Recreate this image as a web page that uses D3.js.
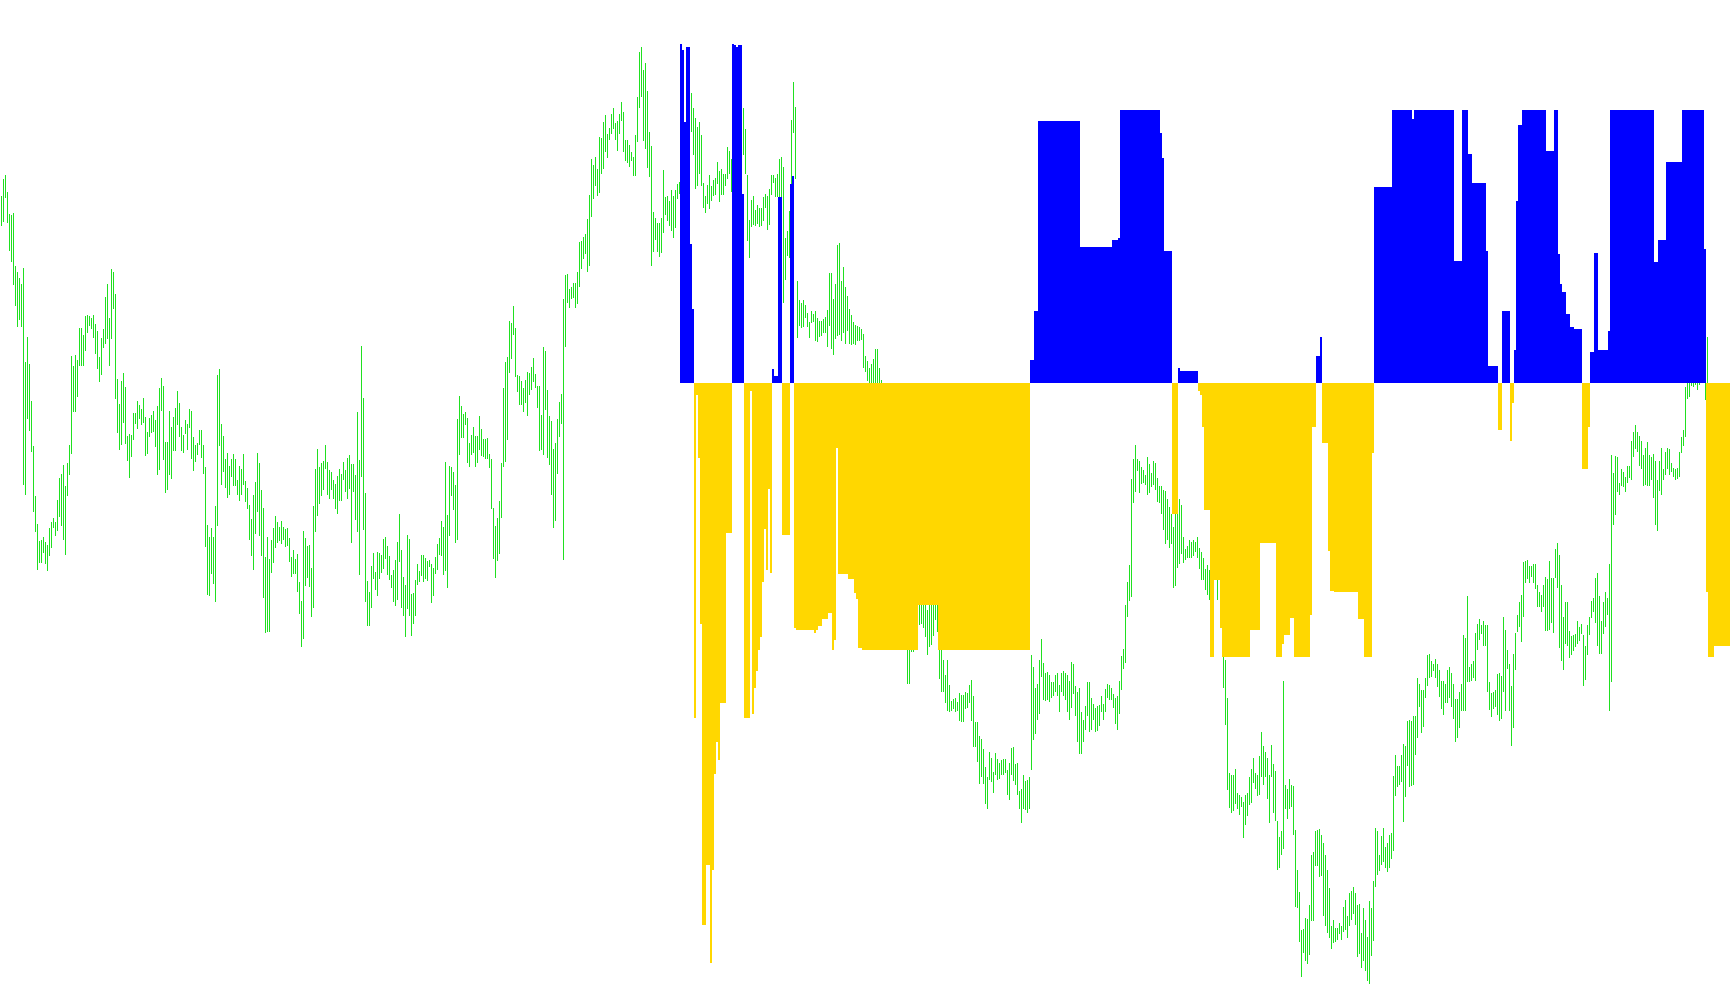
<!DOCTYPE html>
<html><head><meta charset="utf-8">
<script src="https://cdn.jsdelivr.net/npm/d3@7"></script>
<style>html,body{margin:0;padding:0;background:#fff;overflow:hidden}</style>
</head><body><svg id="c" width="1730" height="1005"></svg>
<script>
// Price bars (high / low, in price points), one per bar from bar 0
const highs = [
/*0*/ 804,821,825,808,786,785,787,734,728,722,
/*10*/ 716,732,638,663,636,599,554,504,476,459,
/*20*/ 460,463,458,455,472,478,482,478,500,522,
/*30*/ 526,535,514,537,555,644,634,645,640,672,
/*40*/ 672,665,684,685,684,682,685,676,669,643,
/*50*/ 662,671,703,716,682,731,728,706,621,596,
/*60*/ 619,627,613,564,566,565,587,587,599,595,
/*70*/ 591,602,583,568,582,585,589,580,594,612,
/*80*/ 622,614,558,558,589,573,583,592,609,597,
/*90*/ 573,565,580,576,591,589,563,555,557,570,
/*100*/ 570,555,533,475,463,472,463,494,625,631,
/*110*/ 576,564,541,547,534,541,546,541,520,534,
/*120*/ 531,546,519,512,495,481,505,518,547,537,
/*130*/ 510,492,443,463,441,460,472,484,478,473,
/*140*/ 479,473,471,472,462,443,450,441,446,418,
/*150*/ 399,469,462,454,455,432,494,531,551,533,
/*160*/ 537,539,555,538,530,528,520,516,524,531,
/*170*/ 526,538,530,542,545,536,536,525,588,540,
/*180*/ 654,602,507,419,408,434,447,428,448,447,
/*190*/ 445,461,463,454,444,425,430,440,458,486,
/*200*/ 450,423,415,465,461,406,407,420,436,429,
/*210*/ 445,445,442,439,440,436,432,443,456,462,
/*220*/ 479,473,538,485,534,533,528,515,581,604,
/*230*/ 594,586,588,582,557,565,573,564,564,584,
/*240*/ 571,561,561,562,546,541,492,474,482,499,
/*250*/ 537,612,638,643,679,677,694,672,625,624,
/*260*/ 619,612,620,628,627,633,642,626,614,614,
/*270*/ 585,653,649,610,584,579,551,557,581,598,
/*280*/ 606,701,725,726,711,713,717,717,728,758,
/*290*/ 759,763,766,781,805,841,835,843,831,863,
/*300*/ 862,878,885,866,872,886,892,877,879,886,
/*310*/ 898,888,860,860,855,848,843,865,903,948,
/*320*/ 953,930,937,909,868,854,788,782,777,777,
/*330*/ 782,830,803,804,799,810,804,810,816,818,
/*340*/ 830,850,870,895,905,907,892,882,873,878,
/*350*/ 865,817,804,815,825,814,820,822,838,829,
/*360*/ 831,826,826,853,849,841,850,860,870,880,
/*370*/ 890,892,871,825,780,800,804,790,795,792,
/*380*/ 792,803,806,804,811,825,825,822,826,841,
/*390*/ 843,833,762,769,789,880,918,893,719,700,
/*400*/ 697,700,695,687,678,689,686,689,682,679,
/*410*/ 679,681,683,690,727,727,701,716,755,757,
/*420*/ 719,733,713,704,691,685,678,675,674,673,
/*430*/ 671,666,644,639,632,636,641,651,651,632,
/*440*/ 620,605,590,580,560,545,530,520,500,480,
/*450*/ 460,440,410,380,370,380,385,400,405,410,
/*460*/ 415,405,400,390,400,405,410,415,410,380,
/*470*/ 370,340,325,340,315,299,301,302,298,307,
/*480*/ 305,305,308,307,315,320,304,278,278,264,
/*490*/ 261,251,233,223,248,242,228,247,241,237,
/*500*/ 240,241,241,230,237,252,253,236,237,209,
/*510*/ 211,225,219,220,223,345,333,312,316,340,
/*520*/ 361,337,327,328,325,318,318,325,327,315,
/*530*/ 327,329,327,325,319,338,336,314,308,312,
/*540*/ 288,280,294,318,318,302,296,292,294,295,
/*550*/ 304,296,311,316,315,312,306,302,304,319,
/*560*/ 344,351,395,418,435,521,541,555,541,539,
/*570*/ 533,530,525,543,536,527,539,537,522,514,
/*580*/ 514,510,509,501,493,486,473,495,500,501,
/*590*/ 495,463,451,454,460,458,460,458,463,452,
/*600*/ 448,442,431,435,430,420,410,440,420,435,
/*610*/ 400,360,340,302,227,225,225,231,207,205,
/*620*/ 203,198,205,207,223,231,242,227,225,244,
/*630*/ 268,254,248,242,225,255,236,229,179,163,
/*640*/ 169,319,215,211,221,215,214,170,130,108,
/*650*/ 70,71,82,81,95,145,148,169,170,171,
/*660*/ 165,157,145,130,112,74,80,72,72,77,
/*670*/ 74,93,100,84,107,109,113,107,95,96,
/*680*/ 67,92,80,63,99,92,119,172,169,145,
/*690*/ 164,172,153,157,165,167,224,245,234,234,
/*700*/ 245,256,254,279,280,279,284,284,322,316,
/*710*/ 310,310,322,345,346,339,336,341,336,330,
/*720*/ 319,319,316,330,333,327,316,301,301,308,
/*730*/ 316,365,362,404,333,336,339,367,376,381,
/*740*/ 375,379,375,375,318,307,308,310,326,327,
/*750*/ 324,383,370,350,336,314,346,367,385,398,
/*760*/ 405,438,439,440,434,434,436,436,415,408,
/*770*/ 405,415,423,421,439,422,422,451,457,445,
/*780*/ 415,383,398,398,369,364,365,366,379,373,
/*790*/ 376,365,354,375,383,399,402,422,427,404,
/*800*/ 379,398,408,402,436,545,527,544,543,517,
/*810*/ 531,528,523,534,534,559,568,575,568,564,
/*820*/ 559,545,552,558,545,543,546,539,520,539,
/*830*/ 552,531,548,552,551,537,532,531,532,548,
/*840*/ 563,570,613,625,630,635,640,635,630,640,
/*850*/ 645,650,655,663
];
const lows = [
/*0*/ 774,778,802,777,749,738,715,694,673,680,
/*10*/ 673,515,505,581,569,548,488,468,430,437,
/*20*/ 437,447,436,429,444,452,472,464,469,483,
/*30*/ 474,460,445,504,525,546,588,588,603,634,
/*40*/ 634,634,649,667,674,671,662,646,631,618,
/*50*/ 625,652,656,661,634,661,691,601,567,550,
/*60*/ 555,577,556,539,522,543,560,576,571,581,
/*70*/ 575,577,544,546,563,567,568,553,525,530,
/*80*/ 589,540,507,510,525,521,549,549,575,563,
/*90*/ 549,547,566,550,572,541,529,538,545,555,
/*100*/ 542,526,453,405,404,426,416,398,474,554,
/*110*/ 515,528,512,502,505,523,514,514,505,499,
/*120*/ 505,515,498,491,460,444,430,466,488,464,
/*130*/ 444,402,367,368,368,427,437,452,457,459,
/*140*/ 456,460,453,454,438,423,426,426,408,386,
/*150*/ 353,361,414,422,413,383,392,468,484,496,
/*160*/ 504,510,531,505,501,510,501,491,486,499,
/*170*/ 499,520,508,501,511,457,508,480,468,425,
/*180*/ 523,470,398,374,374,392,421,410,404,421,
/*190*/ 427,431,441,425,420,412,398,394,400,438,
/*200*/ 392,384,363,391,384,364,376,384,415,418,
/*210*/ 424,418,421,419,433,397,404,426,430,445,
/*220*/ 444,425,429,412,464,504,490,457,460,545,
/*230*/ 562,562,575,537,533,545,547,533,537,550,
/*240*/ 544,543,541,541,532,491,441,422,439,446,
/*250*/ 482,533,538,560,627,641,665,623,608,595,
/*260*/ 595,588,597,584,605,610,618,612,592,549,
/*270*/ 550,545,590,542,535,505,472,479,526,563,
/*280*/ 576,440,653,697,692,701,702,692,696,713,
/*290*/ 731,741,746,728,734,783,801,814,804,807,
/*300*/ 826,831,848,842,860,866,871,860,849,866,
/*310*/ 879,848,839,837,833,839,824,824,858,892,
/*320*/ 903,859,851,832,823,734,748,760,748,743,
/*330*/ 747,767,785,779,774,769,762,772,801,806,
/*340*/ 805,815,825,850,860,868,845,811,814,826,
/*350*/ 814,792,787,796,791,799,804,805,816,798,
/*360*/ 805,805,814,821,826,808,815,820,830,835,
/*370*/ 840,845,826,759,742,773,775,774,776,773,
/*380*/ 774,779,792,770,775,805,817,803,803,803,
/*390*/ 800,697,720,744,742,816,867,821,662,674,
/*400*/ 672,673,682,673,662,677,678,659,658,663,
/*410*/ 664,667,667,653,674,651,645,661,664,665,
/*420*/ 659,667,656,669,656,655,656,655,659,659,
/*430*/ 660,632,628,619,610,605,600,595,590,580,
/*440*/ 570,550,540,520,500,490,480,460,440,420,
/*450*/ 400,380,350,316,316,348,348,360,370,375,
/*460*/ 376,372,363,345,353,355,364,380,368,321,
/*470*/ 308,308,297,289,288,289,291,288,289,279,
/*480*/ 278,278,291,292,297,279,253,253,238,216,
/*490*/ 223,216,196,191,220,218,207,225,220,221,
/*500*/ 225,225,227,205,200,225,219,215,205,191,
/*510*/ 177,191,190,187,191,230,260,266,280,286,
/*520*/ 323,300,299,300,298,302,304,308,304,288,
/*530*/ 308,304,300,288,280,292,306,284,258,246,
/*540*/ 246,258,270,284,268,270,280,268,269,274,
/*550*/ 288,280,288,302,300,300,292,276,270,286,
/*560*/ 310,331,337,383,399,403,497,508,529,507,
/*570*/ 516,517,515,505,507,513,515,510,498,497,
/*580*/ 486,470,456,460,452,456,412,414,432,436,
/*590*/ 446,437,440,442,442,442,444,448,442,431,
/*600*/ 420,420,410,405,400,380,360,422,400,421,
/*610*/ 373,312,275,210,192,187,189,196,191,185,
/*620*/ 193,162,175,184,195,197,217,211,204,205,
/*630*/ 223,215,223,201,177,223,187,179,130,132,
/*640*/ 145,151,191,181,191,193,165,93,92,58,
/*650*/ 23,47,39,36,45,79,79,134,134,123,
/*660*/ 124,84,74,67,62,51,57,58,60,66,
/*670*/ 60,68,70,62,74,80,86,75,43,46,
/*680*/ 32,39,29,19,16,44,59,113,125,129,
/*690*/ 135,138,132,128,132,141,149,204,213,215,
/*700*/ 218,178,203,234,213,214,215,245,262,293,
/*710*/ 267,273,302,314,322,323,329,322,313,303,
/*720*/ 291,285,297,297,302,293,281,258,262,272,
/*730*/ 289,289,289,318,318,319,322,319,350,360,
/*740*/ 366,354,354,308,290,283,291,293,285,279,
/*750*/ 281,308,289,331,289,254,272,330,368,373,
/*760*/ 358,383,417,421,417,423,417,411,393,393,
/*770*/ 388,393,369,369,370,377,367,422,412,352,
/*780*/ 339,330,356,354,342,345,349,353,356,359,
/*790*/ 366,314,320,345,365,382,388,377,354,346,
/*800*/ 346,366,373,385,289,318,475,485,508,505,
/*810*/ 514,513,508,517,522,520,543,551,548,534,
/*820*/ 531,514,515,514,514,520,502,475,469,509,
/*830*/ 505,520,525,531,525,528,523,520,521,523,
/*840*/ 547,554,563,601,603,614,613,615,610,615,
/*850*/ 620,622,600,616
];

// Histogram values, one per bar starting at bar HIST_FIRST_BAR
const HIST_FIRST_BAR = 340;
const hist = [
/*340*/ 339,333,261,336,336,139,74,-335,-12,-75,
/*350*/ -241,-542,-542,-482,-482,-580,-487,-391,-359,-377,
/*360*/ -320,-320,-320,-150,-150,-150,339,338,336,338,
/*370*/ 338,189,-335,-335,-335,-8,-331,-305,-288,-267,
/*380*/ -254,-199,-146,-187,-106,-190,14,7,7,186,
/*390*/ 186,-152,-152,-152,-152,199,207,-245,-247,-247,
/*400*/ -247,-247,-247,-247,-247,-247,-247,-250,-247,-243,
/*410*/ -243,-236,-236,-236,-230,-230,-267,-257,-65,-191,
/*420*/ -191,-191,-191,-191,-196,-196,-196,-210,-216,-265,
/*430*/ -265,-267,-267,-267,-267,-267,-267,-267,-267,-267,
/*440*/ -267,-267,-267,-267,-267,-267,-267,-267,-267,-267,
/*450*/ -267,-267,-267,-267,-267,-267,-267,-267,-267,-222,
/*460*/ -222,-222,-222,-222,-222,-222,-222,-222,-222,-267,
/*470*/ -267,-267,-267,-267,-267,-267,-267,-267,-267,-267,
/*480*/ -267,-267,-267,-267,-267,-267,-267,-267,-267,-267,
/*490*/ -267,-267,-267,-267,-267,-267,-267,-267,-267,-267,
/*500*/ -267,-267,-267,-267,-267,-267,-267,-267,-267,-267,
/*510*/ -267,-267,-267,-267,-267,23,23,72,72,262,
/*520*/ 262,262,262,262,262,262,262,262,262,262,
/*530*/ 262,262,262,262,262,262,262,262,262,262,
/*540*/ 136,136,136,136,136,136,136,136,136,136,
/*550*/ 136,136,136,136,136,136,143,143,143,145,
/*560*/ 273,273,273,273,273,273,273,273,273,273,
/*570*/ 273,273,273,273,273,273,273,273,273,273,
/*580*/ 250,225,132,132,132,132,-131,-131,-131,15,
/*590*/ 12,12,12,12,12,12,12,12,12,-8,
/*600*/ -12,-44,-127,-127,-127,-274,-274,-197,-197,-197,
/*610*/ -245,-274,-274,-274,-274,-274,-274,-274,-274,-274,
/*620*/ -274,-274,-274,-274,-274,-247,-247,-247,-247,-247,
/*630*/ -160,-160,-160,-160,-160,-160,-160,-160,-274,-274,
/*640*/ -274,-261,-252,-252,-252,-235,-235,-274,-274,-274,
/*650*/ -274,-274,-274,-274,-274,-232,-44,-44,27,27,
/*660*/ 46,-60,-60,-60,-168,-208,-208,-209,-209,-209,
/*670*/ -209,-209,-209,-209,-209,-209,-209,-209,-209,-236,
/*680*/ -236,-236,-274,-274,-274,-274,-70,196,196,196,
/*690*/ 196,196,196,196,196,196,273,273,273,273,
/*700*/ 273,273,273,273,273,273,264,273,273,273,
/*710*/ 273,273,273,273,273,273,273,273,273,273,
/*720*/ 273,273,273,273,273,273,273,122,122,122,
/*730*/ 122,273,273,273,229,229,200,200,200,200,
/*740*/ 200,200,200,132,17,17,17,17,17,-47,
/*750*/ -47,72,72,72,72,-58,-20,33,182,258,
/*760*/ 258,273,273,273,273,273,273,273,273,273,
/*770*/ 273,273,273,232,232,232,232,273,273,129,
/*780*/ 99,91,91,69,69,56,56,54,54,54,
/*790*/ 54,-86,-86,-86,-44,31,31,130,130,33,
/*800*/ 33,33,33,33,52,273,273,273,273,273,
/*810*/ 273,273,273,273,273,273,273,273,273,273,
/*820*/ 273,273,273,273,273,273,273,121,121,143,
/*830*/ 143,143,143,221,221,221,221,221,221,221,
/*840*/ 221,273,273,273,273,273,273,273,273,273,
/*850*/ 273,273,134,-209,-274,-274,-274,-263,-263,-263,
/*860*/ -263,-263,-263,-263,-263
];

const BAR_COUNT = 865;
const COLORS = { bars: "#20e020", up: "#0000ff", down: "#ffd700" };

const W = 1730, H = 1005;
const svg = d3.select("#c");
svg.append("rect").attr("width", W).attr("height", H).attr("fill", "#fff");

const x = d3.scaleLinear().domain([0, BAR_COUNT]).range([0, W]);
const y = d3.scaleLinear().domain([0, 1000]).range([1000, 0]);
const yh = d3.scaleLinear().domain([-617, 383]).range([1000, 0]);
const step = x(1) - x(0);

const bars = highs.map((h, i) => ({ i, h, l: lows[i] }));
svg.append("g").attr("shape-rendering", "crispEdges")
  .selectAll("rect").data(bars).join("rect")
  .attr("x", d => x(d.i) + step / 2)
  .attr("width", step / 2)
  .attr("y", d => y(d.h))
  .attr("height", d => Math.max(1, y(d.l) - y(d.h)))
  .attr("fill", COLORS.bars);

const hd = hist.map((v, k) => ({ i: HIST_FIRST_BAR + k, v }));
svg.append("g").attr("shape-rendering", "crispEdges")
  .selectAll("rect").data(hd).join("rect")
  .attr("x", d => x(d.i))
  .attr("width", step)
  .attr("y", d => Math.min(yh(d.v), yh(0)))
  .attr("height", d => Math.abs(yh(d.v) - yh(0)))
  .attr("fill", d => d.v >= 0 ? COLORS.up : COLORS.down);
</script>
</body></html>
